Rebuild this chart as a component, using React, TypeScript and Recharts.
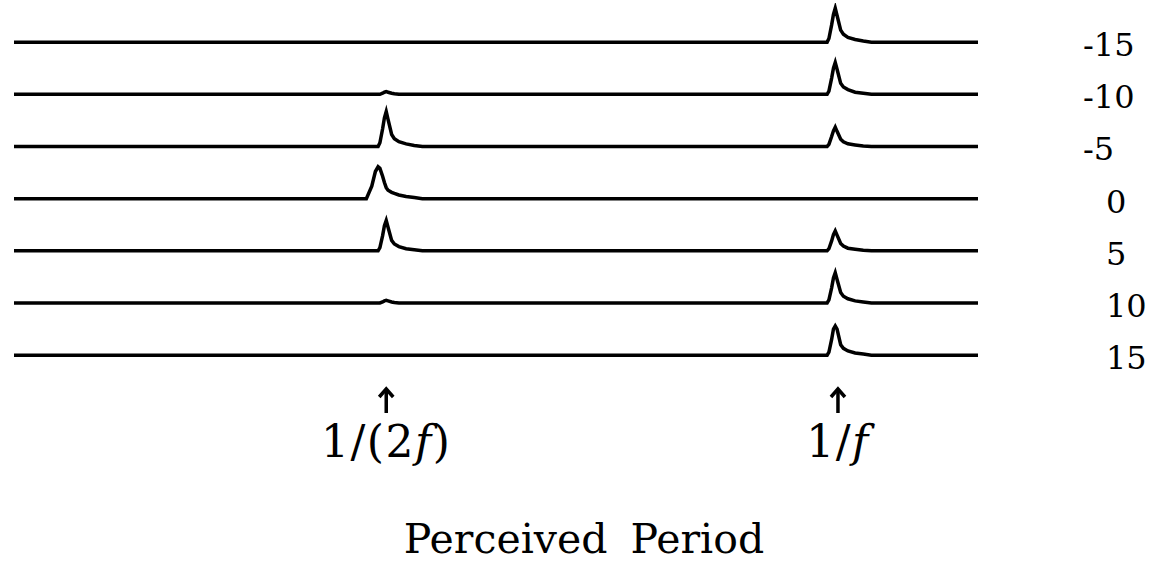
import { LineChart, Line, XAxis, YAxis, Label } from 'recharts';

// perceived period, in thousandths of 1/f (500 = 1/(2f), 1000 = 1/f)
const periods = [
  88,
  478, 484, 488, 491, 493, 496, 498, 500, 502, 506, 509, 514, 522, 531, 540,
  975, 981, 985, 988, 990, 993, 995, 997, 999, 1003, 1006, 1011, 1019, 1028, 1037,
  1155,
];

// relative detector output per SNR (fraction of trace spacing)
const resp_m15 = [
  0,
  0, 0, 0, 0, 0, 0, 0, 0, 0, 0, 0, 0, 0, 0, 0,
  0, 0, 0, 0, 0.07, 0.33, 0.53, 0.65, 0.51, 0.23, 0.15, 0.09, 0.05, 0.02, 0,
  0,
];
const resp_m10 = [
  0,
  0, 0, 0, 0, 0, 0.02, 0.04, 0.05, 0.04, 0.02, 0.01, 0, 0, 0, 0,
  0, 0, 0, 0, 0.06, 0.31, 0.5, 0.61, 0.48, 0.21, 0.14, 0.09, 0.04, 0.02, 0,
  0,
];
const resp_m5 = [
  0,
  0, 0, 0, 0, 0.07, 0.34, 0.55, 0.67, 0.52, 0.23, 0.15, 0.09, 0.05, 0.02, 0,
  0, 0, 0, 0, 0.04, 0.19, 0.3, 0.37, 0.29, 0.14, 0.09, 0.05, 0.03, 0.01, 0,
  0,
];
const resp_0 = [
  0,
  0, 0.24, 0.52, 0.61, 0.58, 0.43, 0.31, 0.21, 0.16, 0.12, 0.1, 0.07, 0.04, 0.02, 0,
  0, 0, 0, 0, 0, 0, 0, 0, 0, 0, 0, 0, 0, 0, 0,
  0,
];
const resp_5 = [
  0,
  0, 0, 0, 0, 0.06, 0.29, 0.48, 0.58, 0.45, 0.2, 0.13, 0.08, 0.04, 0.02, 0,
  0, 0, 0, 0, 0.04, 0.19, 0.31, 0.38, 0.3, 0.14, 0.09, 0.05, 0.03, 0.01, 0,
  0,
];
const resp_10 = [
  0,
  0, 0, 0, 0, 0, 0.02, 0.04, 0.05, 0.04, 0.02, 0.01, 0, 0, 0, 0,
  0, 0, 0, 0, 0.06, 0.29, 0.48, 0.58, 0.45, 0.2, 0.13, 0.08, 0.04, 0.02, 0,
  0,
];
const resp_15 = [
  0,
  0, 0, 0, 0, 0, 0, 0, 0, 0, 0, 0, 0, 0, 0, 0,
  0, 0, 0, 0, 0.06, 0.3, 0.5, 0.56, 0.5, 0.2, 0.13, 0.08, 0.04, 0.02, 0,
  0,
];

const snrLevels = [-15, -10, -5, 0, 5, 10, 15];
const responses = [resp_m15, resp_m10, resp_m5, resp_0, resp_5, resp_10, resp_15];

const periodTicks = [500, 1000];
const periodLabels = ['1/(2', '1/'];

const FONT = '"DejaVu Serif", serif';

// waterfall: each trace sits one unit above the next
const rowOffset = (k: number) => snrLevels.length - 1 - k;
const tableData = periods.map((p, i) => {
  const row: Record<string, number> = { period: p };
  responses.forEach((r, k) => {
    row['s' + k] = r[i] + rowOffset(k);
  });
  return row;
});

function PeriodTick(props: any) {
  const { x, index } = props;
  const top = 388;
  return (
    <g>
      <path d={`M${x},${top + 25} L${x},${top + 3}`} stroke="#000" strokeWidth={3.5} fill="none" />
      <path
        d={`M${x - 7},${top + 9} L${x},${top + 1} L${x + 7},${top + 9}`}
        stroke="#000"
        strokeWidth={3.5}
        strokeLinejoin="miter"
        fill="none"
      />
      <text x={x} y={457} textAnchor="middle" fontFamily={FONT} fontSize={44} letterSpacing={1.5} fill="#000">
        {periodLabels[index]}
        <tspan fontStyle="italic">f</tspan>
        {index === 0 ? ')' : ''}
      </text>
    </g>
  );
}

function SnrTick(props: any) {
  const { y, payload } = props;
  const k = snrLevels.length - 1 - payload.value;
  const v = snrLevels[k];
  return (
    <text x={v < 0 ? 1083 : 1106} y={y + 14} textAnchor="start" fontFamily={FONT} fontSize={32} fill="#000">
      {String(v)}
    </text>
  );
}

export default function App() {
  return (
    <div style={{ position: 'absolute', left: 0, top: 0, width: 1162, height: 563, background: '#fff' }}>
      <LineChart
        width={1162}
        height={563}
        data={tableData}
        margin={{ top: 3, right: 0, bottom: 0, left: 14 }}
      >
        <XAxis
          dataKey="period"
          type="number"
          domain={[88, 1155]}
          ticks={periodTicks}
          tick={<PeriodTick />}
          axisLine={false}
          tickLine={false}
          height={187}
          allowDataOverflow
        >
          <Label
            content={() => (
              <text x={584} y={553} textAnchor="middle" fontFamily={FONT} fontSize={41} wordSpacing={10} fill="#000">
                Perceived Period
              </text>
            )}
          />
        </XAxis>
        <YAxis
          orientation="right"
          type="number"
          domain={[-0.4, 6.75]}
          ticks={[0, 1, 2, 3, 4, 5, 6]}
          tick={<SnrTick />}
          axisLine={false}
          tickLine={false}
          width={184}
          allowDataOverflow
        />
        {responses.map((_, k) => (
          <Line
            key={k}
            dataKey={'s' + k}
            type="linear"
            stroke="#000"
            strokeWidth={3.5}
            dot={false}
            activeDot={false}
            isAnimationActive={false}
          />
        ))}
      </LineChart>
    </div>
  );
}
